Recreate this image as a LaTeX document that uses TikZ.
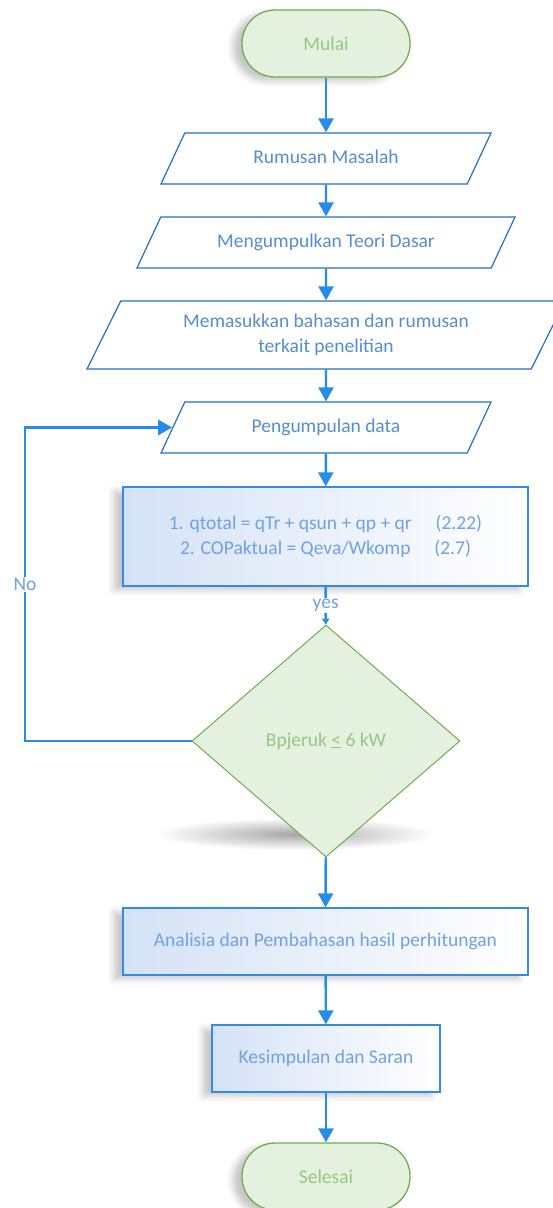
\documentclass[tikz,border=0pt]{standalone}
\usepackage{fontspec}
\setmainfont{Carlito}
\usepackage{tikz}
\usetikzlibrary{arrows.meta,shapes.geometric,shadows.blur,positioning}
\definecolor{lineBlue}{RGB}{38,140,232}
\definecolor{ioBlue}{RGB}{36,110,196}
\definecolor{ioText}{RGB}{84,142,206}
\definecolor{procBlue}{RGB}{52,138,228}
\definecolor{procFill}{RGB}{212,226,246}
\definecolor{procText}{RGB}{112,162,224}
\definecolor{termGreen}{RGB}{112,172,84}
\definecolor{termFill}{RGB}{227,241,222}
\definecolor{termText}{RGB}{148,200,130}
\tikzset{
  flowText/.style={font=\fontsize{19.5}{24.5}\selectfont},
  softShadow/.style={blur shadow={shadow xshift=-9pt,shadow yshift=-4pt,
    shadow blur radius=6pt,shadow opacity=22}},
  terminal/.style={
    rectangle, rounded corners=33pt, draw=termGreen, line width=1.3pt,
    fill=termFill, text=termText, minimum width=168pt, minimum height=67pt,
    flowText, softShadow
  },
  % slant of the sides follows the natural height, so it is set by inner ysep
  ioBox/.style={
    trapezium, trapezium left angle=65, trapezium right angle=115,
    trapezium stretches body, draw=ioBlue, line width=1.2pt, fill=white,
    text=ioText, align=center, inner xsep=0pt, flowText
  },
  oneLine/.style={text height=14pt, text depth=5pt, inner ysep=16pt},
  processBox/.style={
    rectangle, draw=procBlue, line width=1.3pt, left color=procFill,
    right color=white, text=procText, align=center, flowText, softShadow
  },
  decision/.style={
    diamond, draw=termGreen, line width=1pt, fill=termFill, text=termText,
    minimum width=268pt, minimum height=232pt, inner sep=0pt, flowText
  },
  flowArrow/.style={-{Triangle[width=15pt,length=14pt]}, line width=2.4pt, draw=lineBlue}
}

\begin{document}
\begin{tikzpicture}[x=1pt,y=-1pt]
  \useasboundingbox (0,0) rectangle (552,1208);
  % flat shadow under the decision
  \shade[inner color=black!35, outer color=white] (295,834) ellipse (140 and 16);

  \node[terminal] (mulai) at (326,43.5) {Mulai};
  \node[ioBox, oneLine, minimum width=330pt, minimum height=51pt] (rumusan) at (326,158.5)
    {Rumusan Masalah};
  \node[ioBox, oneLine, minimum width=378pt, minimum height=51pt] (teori) at (326,242.5)
    {Mengumpulkan Teori Dasar};
  \node[ioBox, trapezium left angle=63, trapezium right angle=117, inner ysep=12.5pt,
        minimum width=478pt, minimum height=68pt] (bahasan) at (326,335)
    {Memasukkan bahasan dan rumusan\\terkait penelitian};
  \node[ioBox, oneLine, minimum width=330pt, minimum height=51pt] (data) at (326,427.5)
    {Pengumpulan data};
  \node[processBox, minimum width=405pt, minimum height=99pt] (hitung) at (325.5,536.5)
    {1. qtotal = qTr + qsun + qp + qr \quad(2.22)\\
     2. COPaktual = Qeva/Wkomp \quad(2.7)};
  \node[decision] (cek) at (326,741) {Bpjeruk \underline{<} 6 kW};
  \node[processBox, minimum width=405pt, minimum height=67pt] (analisa) at (325.5,941.5)
    {Analisia dan Pembahasan hasil perhitungan};
  \node[processBox, minimum width=228pt, minimum height=67pt] (simpul) at (326,1058.5)
    {Kesimpulan dan Saran};
  \node[terminal] (selesai) at (326,1176.5) {Selesai};

  \coordinate (loopCorner) at (25,741);

  \draw[flowArrow] (mulai) -- (rumusan);
  \draw[flowArrow] (rumusan) -- (teori);
  \draw[flowArrow] (teori) -- (bahasan);
  \draw[flowArrow] (bahasan) -- (data);
  \draw[flowArrow] (data) -- (hitung);
  \draw[lineBlue, line width=2.4pt, -{Triangle[width=7pt,length=6pt]}]
    (hitung) -- node[fill=white, text=procText, flowText, inner sep=1pt]{yes} (cek);
  \draw[flowArrow] (cek.west) -- (loopCorner)
    |- node[pos=0.25, fill=white, text=procText, flowText, inner sep=1pt]{No} (data.west);
  \draw[flowArrow] (cek) -- (analisa);
  \draw[flowArrow] (analisa) -- (simpul);
  \draw[flowArrow] (simpul) -- (selesai);
\end{tikzpicture}
\end{document}
